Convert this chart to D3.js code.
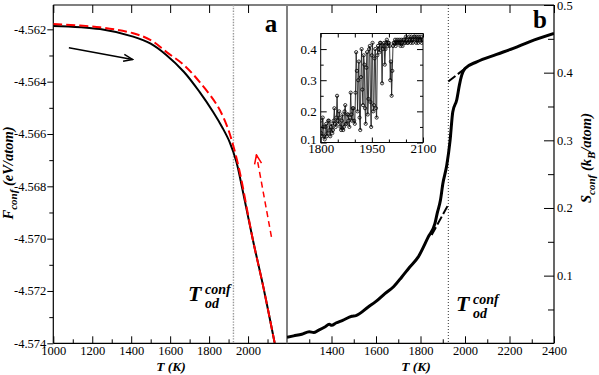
<!DOCTYPE html>
<html>
<head>
<meta charset="utf-8">
<script src="https://cdn.jsdelivr.net/npm/d3@7"></script>
<style>
body{margin:0;background:#fff}
svg{display:block;font-family:'Liberation Serif','Times New Roman',serif}
.bi{font-weight:bold;font-style:italic}
</style>
</head>
<body>
<div id="chart"></div>
<script>
// panel a: F_conf on heating (black) and cooling (red dashed)
var heatT = [1000,1240,1410,1500,1580,1670,1750,1820,1870,1905,1940,1965,2025,2080,2137]
var heatF = [-4.56187,-4.56199,-4.56228,-4.56255,-4.56298,-4.56362,-4.56438,-4.56515,-4.56578,-4.56630,-4.56706,-4.56789,-4.57005,-4.57190,-4.57400]
var coolT = [1000,1240,1410,1500,1580,1670,1750,1840,1890,1923,1957,2025,2080,2137]
var coolF = [-4.56180,-4.56192,-4.56215,-4.56241,-4.56286,-4.56336,-4.56400,-4.56489,-4.56566,-4.56642,-4.56744,-4.57005,-4.57190,-4.57400]

// panel b: S_conf
var sT = [1200,1230,1266,1300,1320,1341,1370,1390,1401,1420,1450,1491,1510,1565,1600,1640,1680,1716,1750,1790,1835,1865,1875,1890,1900,1918,1933,1945,1963,1975,1985,2000,2053,2142,2217,2292,2400]
var sS = [0.009,0.011,0.0133,0.017,0.016,0.0192,0.024,0.028,0.0266,0.030,0.034,0.0399,0.041,0.0537,0.062,0.0735,0.084,0.0981,0.112,0.1277,0.1572,0.1771,0.192,0.212,0.235,0.263,0.300,0.342,0.360,0.382,0.396,0.406,0.416,0.427,0.436,0.446,0.458]
var fitHiT = [1925, 2000], fitHiS = [0.387, 0.406]
var fitLoT = [1850, 1925], fitLoS = [0.160, 0.205]

// inset: raw S_conf samples every 2 K from 1800 K
var insetT0 = 1800, insetStep = 2
var insetS = [
  0.17,0.13, 0.12,0.18, 0.15,0.12, 0.11,0.15, 0.16,0.12, 0.13,0.17, 0.17,0.14, 0.12,0.15, 0.16,0.13, 0.14,0.17,
  0.21,0.16, 0.15,0.18, 0.25,0.17, 0.16,0.20, 0.18,0.15, 0.14,0.17, 0.19,0.14, 0.15,0.20, 0.22,0.16, 0.16,0.19,
  0.19,0.17, 0.15,0.18, 0.26,0.19, 0.17,0.21, 0.21,0.17, 0.16,0.26, 0.39,0.33, 0.20,0.30, 0.36,0.18, 0.14,0.31,
  0.40,0.27, 0.22,0.38, 0.35,0.21, 0.16,0.34, 0.39,0.19, 0.24,0.40, 0.41,0.23, 0.15,0.38, 0.42,0.20, 0.22,0.37,
  0.40,0.21, 0.18,0.38, 0.41,0.40, 0.39,0.42, 0.42,0.41, 0.29,0.40, 0.41,0.42, 0.35,0.40, 0.42,0.43, 0.41,0.42,
  0.42,0.41, 0.30,0.36, 0.25,0.33, 0.41,0.42,
  0.42,0.43, 0.41,0.42, 0.43,0.42, 0.42,0.43, 0.42,0.41, 0.43,0.42, 0.41,0.43, 0.43,0.42, 0.42,0.44, 0.43,0.42,
  0.42,0.43, 0.44,0.43, 0.42,0.44, 0.43,0.42, 0.43,0.44, 0.44,0.43, 0.42,0.44, 0.43,0.42, 0.44,0.43, 0.43,0.44,
  0.42,0.43, 0.43]

var Tod = 1925

var aXMajor = [1000,1200,1400,1600,1800,2000]
var aXMinor = [1100,1300,1500,1700,1900,2100]
var aYMajor = [-4.574,-4.572,-4.570,-4.568,-4.566,-4.564,-4.562]
var aYMinor = [-4.573,-4.571,-4.569,-4.567,-4.565,-4.563]
var bXMajor = [1400,1600,1800,2000,2200,2400]
var bXMinor = [1300,1500,1700,1900,2100,2300]
var bYMajor = [0.1,0.2,0.3,0.4,0.5]
var bYMinor = [0.05,0.15,0.25,0.35,0.45]
var iXMajor = [1800,1950,2100]
var iXMinor = [1850,1900,2000,2050]
var iYMajor = [0.1,0.2,0.3,0.4]
var iYMinor = [0.15,0.25,0.35]

var W = 599, H = 375
var pT = 5, pB = 343.3, pL = 53.3, pM = 287, pR = 554

var svg = d3.select('#chart').append('svg').attr('width', W).attr('height', H)

var xA = d3.scaleLinear([1000, 2200], [pL, pM])
var yA = d3.scaleLinear([-4.574, -4.56107], [pB, pT])
var xB = d3.scaleLinear([1200, 2400], [pM, pR])
var yB = d3.scaleLinear([0, 0.5], [pB, pT])
var xI = d3.scaleLinear([1800, 2100], [320.7, 423])
var yI = d3.scaleLinear([0.1, 0.45], [142.5, 33.5])

var defs = svg.append('defs')
defs.append('clipPath').attr('id', 'clipA').append('rect')
  .attr('x', pL).attr('y', pT).attr('width', pM - pL).attr('height', pB - pT)
defs.append('clipPath').attr('id', 'clipB').append('rect')
  .attr('x', pM).attr('y', pT).attr('width', pR - pM).attr('height', pB - pT)
defs.append('clipPath').attr('id', 'clipI').append('rect')
  .attr('x', xI(1800)).attr('y', yI(0.45)).attr('width', xI(2100) - xI(1800)).attr('height', yI(0.1) - yI(0.45))
defs.selectAll('marker').data([['k', '#000'], ['r', '#f00']]).join('marker')
  .attr('id', d => 'head-' + d[0])
  .attr('viewBox', '-11 -5 12 10').attr('refX', 0).attr('refY', 0)
  .attr('markerWidth', 12).attr('markerHeight', 10)
  .attr('markerUnits', 'userSpaceOnUse').attr('orient', 'auto')
  .append('path').attr('d', 'M-9,-3.5L0,0L-9,3.5')
  .attr('fill', 'none').attr('stroke', d => d[1]).attr('stroke-width', 1.5)

// axes: tick marks + labels
function axis(gen, scale, vals, size, fmt, pad){
  var a = gen(scale).tickValues(vals).tickSize(size).tickPadding(pad == null ? 2 : pad)
    .tickFormat(fmt || (() => ''))
  return g => {
    g.call(a)
    g.attr('font-family', null).attr('font-size', null)
    g.select('.domain').remove()
    g.selectAll('line').attr('stroke', '#000')
    g.selectAll('text').attr('fill', '#000')
  }
}
var intF = d => d
var ax = svg.append('g').style('font-size', '12.5px').style('font-family', "'Liberation Serif', serif")

ax.append('g').attr('transform', `translate(0,${pB})`).call(axis(d3.axisBottom, xA, aXMajor, -7, intF, 3))
ax.append('g').attr('transform', `translate(0,${pB})`).call(axis(d3.axisBottom, xA, aXMinor, -4))
ax.append('g').attr('transform', `translate(0,${pT})`).call(axis(d3.axisTop, xA, aXMajor, -8))
ax.append('g').attr('transform', `translate(${pL},0)`).call(axis(d3.axisLeft, yA, aYMajor, 6, d => d.toFixed(3), 1))
ax.append('g').attr('transform', `translate(${pL},0)`).call(axis(d3.axisLeft, yA, aYMinor, 4))

ax.append('g').attr('transform', `translate(0,${pB})`).call(axis(d3.axisBottom, xB, bXMajor, -7, intF, 3))
ax.append('g').attr('transform', `translate(0,${pB})`).call(axis(d3.axisBottom, xB, bXMinor, -4))
ax.append('g').attr('transform', `translate(0,${pT})`).call(axis(d3.axisTop, xB, bXMajor, -8))
ax.append('g').attr('transform', `translate(${pR},0)`).call(axis(d3.axisRight, yB, bYMajor, -10, d => d.toFixed(1), 3))
ax.append('g').attr('transform', `translate(${pR},0)`).call(axis(d3.axisRight, yB, bYMinor, -6))

// frame
var frame = svg.append('g').attr('stroke', '#000').attr('stroke-width', 1.2)
frame.append('line').attr('x1', pL).attr('x2', pR).attr('y1', pT).attr('y2', pT)
frame.append('line').attr('x1', pL).attr('x2', pR).attr('y1', pB).attr('y2', pB)
frame.append('line').attr('x1', pL).attr('x2', pL).attr('y1', pT).attr('y2', pB)
frame.append('line').attr('x1', pR).attr('x2', pR).attr('y1', pT).attr('y2', pB)
svg.append('line').attr('x1', pM).attr('x2', pM).attr('y1', pT).attr('y2', pB)
  .attr('stroke', '#808080').attr('stroke-width', 2)

// T_od markers
svg.append('line').attr('x1', xA(Tod)).attr('x2', xA(Tod)).attr('y1', pT).attr('y2', pB)
  .attr('stroke', '#999').attr('stroke-width', 1.4).attr('stroke-dasharray', '1.4,1.4')
svg.append('line').attr('x1', xB(Tod)).attr('x2', xB(Tod)).attr('y1', pT).attr('y2', pB)
  .attr('stroke', '#000').attr('stroke-width', 0.8).attr('stroke-dasharray', '1,2')

// panel a curves
var gA = svg.append('g').attr('clip-path', 'url(#clipA)')
var lineA = d3.line().x(d => xA(d[0])).y(d => yA(d[1])).curve(d3.curveCatmullRom.alpha(0.5))
gA.append('path').datum(d3.zip(heatT, heatF)).attr('d', lineA)
  .attr('fill', 'none').attr('stroke', '#000').attr('stroke-width', 2)
gA.append('path').datum(d3.zip(coolT, coolF)).attr('d', lineA)
  .attr('fill', 'none').attr('stroke', '#f00').attr('stroke-width', 2).attr('stroke-dasharray', '9,4')

svg.append('line').attr('x1', xA(1080)).attr('y1', yA(-4.56270)).attr('x2', xA(1407)).attr('y2', yA(-4.56315))
  .attr('stroke', '#000').attr('stroke-width', 1.5).attr('marker-end', 'url(#head-k)')
svg.append('line').attr('x1', xA(2120)).attr('y1', yA(-4.56993)).attr('x2', xA(2043)).attr('y2', yA(-4.56680))
  .attr('stroke', '#f00').attr('stroke-width', 1.5).attr('stroke-dasharray', '6,4').attr('marker-end', 'url(#head-r)')

// panel b curves
var gB = svg.append('g').attr('clip-path', 'url(#clipB)')
var lineB = d3.line().x(d => xB(d[0])).y(d => yB(d[1]))
gB.append('path').datum(d3.zip(fitLoT, fitLoS)).attr('d', lineB)
  .attr('fill', 'none').attr('stroke', '#000').attr('stroke-width', 2).attr('stroke-dasharray', '9,3')
gB.append('path').datum(d3.zip(fitHiT, fitHiS)).attr('d', lineB)
  .attr('fill', 'none').attr('stroke', '#000').attr('stroke-width', 2).attr('stroke-dasharray', '9,3')
gB.append('path').datum(d3.zip(sT, sS)).attr('d', lineB.curve(d3.curveMonotoneX))
  .attr('fill', 'none').attr('stroke', '#000').attr('stroke-width', 3).attr('stroke-linejoin', 'round')

// inset
var gI = svg.append('g')
gI.append('rect').attr('x', xI(1800)).attr('y', yI(0.45)).attr('width', xI(2100) - xI(1800)).attr('height', yI(0.1) - yI(0.45))
  .attr('fill', '#fff').attr('stroke', '#000').attr('stroke-width', 1)
var ins = insetS.map((s, i) => [insetT0 + i*insetStep, s])
var gIc = gI.append('g').attr('clip-path', 'url(#clipI)')
gIc.append('path').datum(ins).attr('d', d3.line().x(d => xI(d[0])).y(d => yI(d[1])))
  .attr('fill', 'none').attr('stroke', '#222').attr('stroke-width', 0.9)
gIc.selectAll('circle').data(ins).join('circle')
  .attr('cx', d => xI(d[0])).attr('cy', d => yI(d[1])).attr('r', 1.6)
  .attr('fill', 'none').attr('stroke', '#000').attr('stroke-width', 0.8)
var ai = gI.append('g').style('font-size', '13px').style('font-family', "'Liberation Serif', serif")
ai.append('g').attr('transform', `translate(0,${yI(0.1)})`).call(axis(d3.axisBottom, xI, iXMajor, -5, intF, 1))
ai.append('g').attr('transform', `translate(0,${yI(0.1)})`).call(axis(d3.axisBottom, xI, iXMinor, -3))
ai.append('g').attr('transform', `translate(0,${yI(0.45)})`).call(axis(d3.axisTop, xI, iXMajor.concat(iXMinor), -4))
ai.append('g').attr('transform', `translate(${xI(1800)},0)`).call(axis(d3.axisLeft, yI, iYMajor, -6, d => d.toFixed(1), 4))
  .selectAll('text').filter(d => d == 0.1).attr('dy', '0.05em')
ai.append('g').attr('transform', `translate(${xI(1800)},0)`).call(axis(d3.axisLeft, yI, iYMinor, -3))
ai.append('g').attr('transform', `translate(${xI(2100)},0)`).call(axis(d3.axisRight, yI, iYMajor, -6))
ai.append('g').attr('transform', `translate(${xI(2100)},0)`).call(axis(d3.axisRight, yI, iYMinor, -3))

// texts
svg.append('text').attr('x', 271).attr('y', 32).attr('text-anchor', 'middle')
  .style('font-size', '25px').style('font-weight', 'bold').text('a')
svg.append('text').attr('x', 540).attr('y', 28).attr('text-anchor', 'middle')
  .style('font-size', '25px').style('font-weight', 'bold').text('b')

function todLabel(x, y){
  var g = svg.append('g').attr('class', 'bi')
  g.append('text').attr('x', x).attr('y', y).style('font-size', '22px').text('T')
  g.append('text').attr('x', x + 17).attr('y', y - 7).style('font-size', '14px').text('conf')
  g.append('text').attr('x', x + 17).attr('y', y + 7).style('font-size', '14px').text('od')
}
todLabel(188, 301)
todLabel(456, 311)

function xTitle(x){
  svg.append('text').attr('class', 'bi').attr('x', x).attr('y', 371).attr('text-anchor', 'middle')
    .style('font-size', '13.5px').text('T (K)')
}
xTitle(171)
xTitle(416)

var tl = svg.append('text').attr('class', 'bi').attr('text-anchor', 'middle')
  .attr('transform', 'translate(13,173) rotate(-90)').style('font-size', '14.5px')
tl.append('tspan').text('F')
tl.append('tspan').attr('dy', 4).style('font-size', '11px').text('conf')
tl.append('tspan').attr('dy', -4).text(' (eV/atom)')

var tr = svg.append('text').attr('class', 'bi').attr('text-anchor', 'middle')
  .attr('transform', 'translate(591,158) rotate(-90)').style('font-size', '14.5px')
tr.append('tspan').text('S')
tr.append('tspan').attr('dy', 4).style('font-size', '11px').text('conf')
tr.append('tspan').attr('dy', -4).text(' (k')
tr.append('tspan').attr('dy', 4).style('font-size', '11px').text('B')
tr.append('tspan').attr('dy', -4).text('/atom)')
</script>
</body>
</html>
